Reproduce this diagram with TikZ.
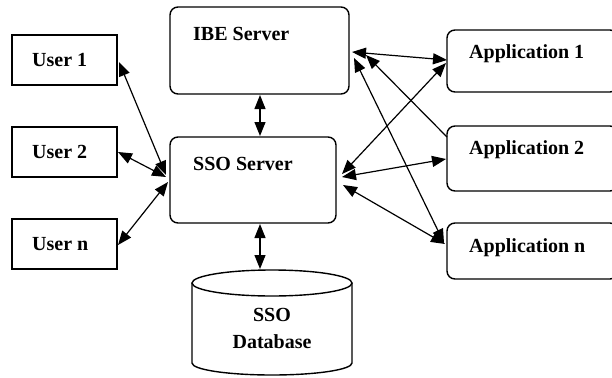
\documentclass[tikz,border=0pt]{standalone}
\usepackage{fontspec}
\setmainfont{Liberation Serif}
\usetikzlibrary{arrows.meta}
\begin{document}
\begin{tikzpicture}[x=1pt,y=-1pt,
  box/.style={draw,line width=1.4pt,inner sep=0pt},
  rbox/.style={box,rounded corners=8pt},
  lbl/.style={font=\fontsize{20}{24}\selectfont\bfseries,inner sep=0pt,anchor=west},
  link/.style={line width=1.2pt,{Triangle[length=14pt,width=11pt]}-{Triangle[length=14pt,width=11pt]}},
  onelink/.style={line width=1.2pt,-{Triangle[length=14pt,width=11pt]}}]
\useasboundingbox (0,0) rectangle (612,377);

% users
\draw[box] (12,35) rectangle (117,85) node[pos=.5,inner sep=0pt] (u1) {};
\draw[box] (12,127) rectangle (117,177) node[pos=.5,inner sep=0pt] (u2) {};
\draw[box] (12,219) rectangle (117,269) node[pos=.5,inner sep=0pt] (un) {};
\node[lbl] (u1t) at (32,60) {User 1};
\node[lbl] (u2t) at (32,152) {User 2};
\node[lbl] (unt) at (32,244) {User n};

% servers
\draw[rbox] (170,7) rectangle (349,94);
\draw[rbox] (170,137) rectangle (336,223);
\node[lbl] (ibet) at (193,34) {IBE Server};
\node[lbl] (ssot) at (193,164) {SSO Server};

% applications
\draw[rbox] (447,30) rectangle (618,92);
\draw[rbox] (447,126) rectangle (618,191);
\draw[rbox] (447,223) rectangle (618,279);
\node[lbl] (a1t) at (469,54) {Application 1};
\node[lbl] (a2t) at (469,150) {Application 2};
\node[lbl] (ant) at (469,248) {Application n};

% database cylinder (y axis points down, so angle 90 is the lower side)
\draw[line width=1.4pt] (272,283) ellipse[x radius=80,y radius=13];
\draw[line width=1.4pt] (192,283) -- (192,363)
  arc[start angle=180,end angle=0,x radius=80,y radius=12] -- (352,283);
\node[font=\fontsize{20}{24}\selectfont\bfseries,inner sep=0pt] (dbt1) at (272,315) {SSO};
\node[font=\fontsize{20}{24}\selectfont\bfseries,inner sep=0pt] (dbt2) at (272,342) {Database};

% connector end points
\coordinate (u1e) at (119,62);   \coordinate (s1) at (166,175);
\coordinate (u2e) at (118,152);  \coordinate (s2) at (166,177);
\coordinate (une) at (118,245);  \coordinate (s3) at (168,182);
\coordinate (ibeb) at (260,95);  \coordinate (ssot1) at (260,136);
\coordinate (ssob) at (260,224); \coordinate (dbtop) at (260,269);
\coordinate (sr1) at (342,174);  \coordinate (a1l) at (446,63);
\coordinate (sr2) at (342,177);  \coordinate (a2l) at (446,159);
\coordinate (sr3) at (343,185);  \coordinate (anl) at (445,244);
\coordinate (ibr1) at (352,52);  \coordinate (a1u) at (447,60);
\coordinate (ibr2) at (366,55);  \coordinate (a2c) at (447,137);
\coordinate (ibr3) at (354,58);  \coordinate (anu) at (444,243);

% connectors
\draw[link] (u1e) -- (s1);
\draw[link] (u2e) -- (s2);
\draw[link] (une) -- (s3);
\draw[link] (ibeb) -- (ssot1);
\draw[link] (ssob) -- (dbtop);
\draw[link] (sr1) -- (a1l);
\draw[link] (sr2) -- (a2l);
\draw[link] (sr3) -- (anl);
\draw[link] (ibr1) -- (a1u);
\draw[onelink] (a2c) -- (ibr2);
\draw[link] (ibr3) -- (anu);
\end{tikzpicture}
\end{document}
